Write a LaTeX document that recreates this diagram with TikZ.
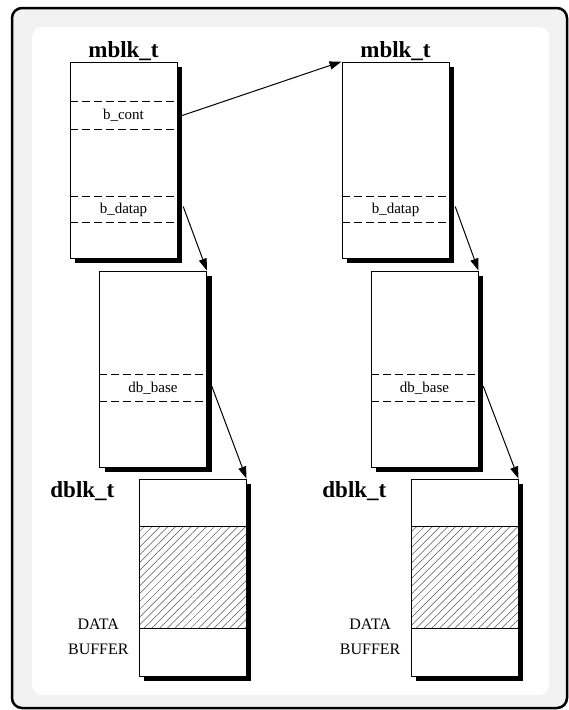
\documentclass[tikz,border=0pt]{standalone}
\usepackage{fontspec}
\setmainfont{Liberation Serif}
\usepackage{tikz}
\usetikzlibrary{arrows.meta, positioning, calc, shadows, patterns.meta}
\definecolor{FrameGray}{RGB}{242,242,242}
\definecolor{HatchGray}{RGB}{85,85,85}

\tikzset{
  blk/.style={draw, line width=0.9pt, fill=white, minimum width=107pt, minimum height=196pt,
              inner sep=0pt,
              drop shadow={shadow xshift=5pt, shadow yshift=-5pt, fill=black, opacity=1}},
  field/.style={minimum width=107pt, inner sep=0pt, font=\fontsize{15pt}{16pt}\selectfont},
  fielddash/.style={dash pattern=on 8pt off 4pt, line width=1.1pt},
  hatch/.style={draw, line width=0.9pt, minimum width=107pt, minimum height=102pt, inner sep=0pt,
                pattern={Lines[angle=45, distance=5.5pt, line width=0.5pt]}, pattern color=HatchGray},
  titletext/.style={font=\bfseries\fontsize{23pt}{27pt}\selectfont, inner sep=0pt},
  bufftext/.style={font=\fontsize{16pt}{25pt}\selectfont, align=center, inner sep=0pt},
  ptr/.style={line width=1pt, -{Triangle[length=12pt, width=8pt]}}
}

\begin{document}
\begin{tikzpicture}[x=1pt, y=-1pt]
  \useasboundingbox (0,0) rectangle (569,710);
  % frame
  \draw[line width=2.5pt, rounded corners=10pt, fill=FrameGray] (12,8) rectangle (567,708);
  \fill[white, rounded corners=10pt] (32,27) rectangle (549,695);

  % left column
  \node[blk] (mblkA) at (123.5,160) {};
  \node[titletext, above=1pt of mblkA] (mtitleA) {mblk\_t};
  \node[field, minimum height=27pt] (contA) at ($(mblkA.center)+(0,-44.5)$) {b\_cont};
  \node[field, minimum height=25pt] (datapA) at ($(mblkA.center)+(0,49.5)$) {b\_datap};

  \node[blk] (dataA) at (153,369) {};
  \node[field, minimum height=26pt] (baseA) at ($(dataA.center)+(0,19)$) {db\_base};

  \node[blk, minimum height=197pt] (dblkA) at (192.5,577.5) {};
  \node[hatch] (bufA) at (dblkA.center) {};
  \node[titletext, below left=3pt and 24pt of dblkA.north west, anchor=north east] (dtitleA) {dblk\_t};
  \node[bufftext, left=10pt of bufA.south west, anchor=east, yshift=-8pt] (btextA) {DATA\\BUFFER};

  % right column
  \node[blk] (mblkB) at (395.5,160) {};
  \node[titletext, above=1pt of mblkB] (mtitleB) {mblk\_t};
  \node[field, minimum height=25pt] (datapB) at ($(mblkB.center)+(0,49.5)$) {b\_datap};

  \node[blk] (dataB) at (424.5,369) {};
  \node[field, minimum height=26pt] (baseB) at ($(dataB.center)+(0,19)$) {db\_base};

  \node[blk, minimum height=197pt] (dblkB) at (464.5,577.5) {};
  \node[hatch] (bufB) at (dblkB.center) {};
  \node[titletext, below left=3pt and 24pt of dblkB.north west, anchor=north east] (dtitleB) {dblk\_t};
  \node[bufftext, left=10pt of bufB.south west, anchor=east, yshift=-8pt] (btextB) {DATA\\BUFFER};

  % dashed field borders
  \foreach \f in {contA, datapA, baseA, datapB, baseB}
    \draw[fielddash] (\f.north west) -- (\f.north east) (\f.south west) -- (\f.south east);

  % pointers
  \draw[ptr] ([xshift=5pt]contA.east) -- (mblkB.north west);
  \draw[ptr] ([xshift=6pt,yshift=3pt]datapA.east) -- (dataA.north east);
  \draw[ptr] ([xshift=6pt,yshift=3pt]datapB.east) -- (dataB.north east);
  \draw[ptr] ([xshift=5pt,yshift=2pt]baseA.east) -- (dblkA.north east);
  \draw[ptr] ([xshift=5pt,yshift=2pt]baseB.east) -- (dblkB.north east);
\end{tikzpicture}
\end{document}
